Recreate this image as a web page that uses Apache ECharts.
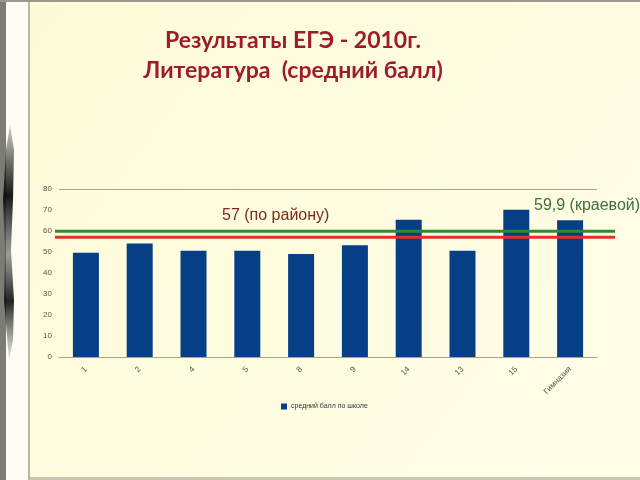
<!DOCTYPE html>
<html><head><meta charset="utf-8">
<script src="https://cdn.jsdelivr.net/npm/echarts@6/dist/echarts.min.js"></script>
<style>html,body{margin:0;padding:0;background:#fff;}#c{width:640px;height:480px;}</style>
</head><body><div id="c"></div>
<script>
var categories = ['1', '2', '4', '5', '8', '9', '14', '13', '15', 'Гимназия'];
var schoolAvg = [49.7, 54.1, 50.6, 50.6, 49.1, 53.2, 65.4, 50.6, 70.1, 65.1];
var districtAvg = 57;
var regionalAvg = 59.9;
var yTicks = [0, 10, 20, 30, 40, 50, 60, 70, 80];
var seriesName = 'средний балл по школе';
var districtLabel = '57 (по району)';
var regionalLabel = '59,9 (краевой)';

var chart = echarts.init(document.getElementById('c'), null, {renderer: 'canvas'});
var splitColors = yTicks.map(function (t, i) { return i === yTicks.length - 1 ? '#a6a48a' : 'rgba(0,0,0,0)'; });

chart.setOption({
  animation: false,
  backgroundColor: '#fdfcdc',
  graphic: [
    {type: 'rect', z: -10, shape: {x: 0, y: 0, width: 640, height: 480},
      style: {fill: {type: 'linear', x: 0, y: 0, x2: 1, y2: 1, colorStops: [{offset: 0, color: '#fdfbd6'}, {offset: 1, color: '#fefde8'}]}}},
    {type: 'rect', z: -9, shape: {x: 0, y: 0, width: 30, height: 480}, style: {fill: '#fdfbf3'}},
    {type: 'rect', z: -8, shape: {x: 0, y: 0, width: 6, height: 480}, style: {fill: '#7d7b76'}},
    {type: 'rect', z: -8, shape: {x: 28, y: 0, width: 2, height: 480}, style: {fill: '#b9b6a2'}},
    {type: 'rect', z: -8, shape: {x: 0, y: 0, width: 640, height: 2}, style: {fill: '#9a9890'}},
    {type: 'rect', z: -8, shape: {x: 30, y: 477, width: 610, height: 3}, style: {fill: '#c9c6b4'}},
    {type: 'polygon', z: -7, shape: {points: [[10, 125], [14, 150], [13, 200], [11, 250], [14, 300], [13, 340], [9, 360], [4, 300], [5, 250], [3, 200], [6, 150]]},
      style: {fill: {type: 'linear', x: 0, y: 0, x2: 0, y2: 1, colorStops: [{offset: 0, color: 'rgba(20,20,20,0.2)'}, {offset: 0.3, color: 'rgba(10,10,10,0.95)'}, {offset: 0.55, color: 'rgba(90,90,90,0.6)'}, {offset: 0.75, color: 'rgba(10,10,10,0.9)'}, {offset: 1, color: 'rgba(60,60,60,0.1)'}]}}},
    {type: 'text', left: 222, top: 208, z: 10,
      style: {text: districtLabel, fill: '#7b2a1e', font: '16px "Liberation Sans", Arial, sans-serif'}},
    {type: 'text', left: 534, top: 198, z: 10,
      style: {text: regionalLabel, fill: '#3f6d3f', font: '16px "Liberation Sans", Arial, sans-serif'}}
  ],
  title: {
    text: 'Результаты ЕГЭ - 2010г.\nЛитература  (средний балл)',
    left: 288, top: 21, textAlign: 'center',
    textStyle: {color: '#9c1c2e', fontSize: 23, fontWeight: 'bold', fontFamily: 'Lato, "Open Sans", sans-serif', lineHeight: 30}
  },
  legend: {
    data: [seriesName], left: 276, top: 398, itemWidth: 6, itemHeight: 6, itemGap: 4,
    icon: 'rect',
    textStyle: {fontSize: 7, color: '#333', fontFamily: '"Liberation Sans", Arial, sans-serif', padding: [0, 0, 0, -1]}
  },
  grid: [
    {left: 59, right: 43, top: 189, bottom: 123},
    {left: 55, right: 25, top: 189, bottom: 123}
  ],
  xAxis: [
    {type: 'category', gridIndex: 0, data: categories,
      axisLine: {lineStyle: {color: '#a6a48a'}}, axisTick: {show: false},
      axisLabel: {rotate: 45, fontSize: 8, color: '#555', fontFamily: '"Liberation Sans", Arial, sans-serif', margin: 11, interval: 0}},
    {type: 'value', gridIndex: 1, min: 0, max: 1, show: false}
  ],
  yAxis: [
    {type: 'value', gridIndex: 0, min: 0, max: 80, interval: 10,
      axisLine: {show: false}, axisTick: {show: false},
      axisLabel: {fontSize: 8, color: '#555', fontFamily: '"Liberation Sans", Arial, sans-serif', margin: 7},
      splitLine: {show: true, lineStyle: {color: splitColors, width: 1}}},
    {type: 'value', gridIndex: 1, min: 0, max: 80, show: false}
  ],
  series: [
    {name: seriesName, type: 'bar', xAxisIndex: 0, yAxisIndex: 0, data: schoolAvg, barWidth: 26,
      itemStyle: {color: '#063f86'}, z: 2},
    {name: 'district', type: 'line', xAxisIndex: 1, yAxisIndex: 1, data: [[0, districtAvg], [1, districtAvg]],
      symbol: 'none', lineStyle: {color: '#e2312a', width: 3}, z: 5},
    {name: 'regional', type: 'line', xAxisIndex: 1, yAxisIndex: 1, data: [[0, regionalAvg], [1, regionalAvg]],
      symbol: 'none', lineStyle: {color: '#2d8a2d', width: 3}, z: 5}
  ]
});
</script></body></html>
